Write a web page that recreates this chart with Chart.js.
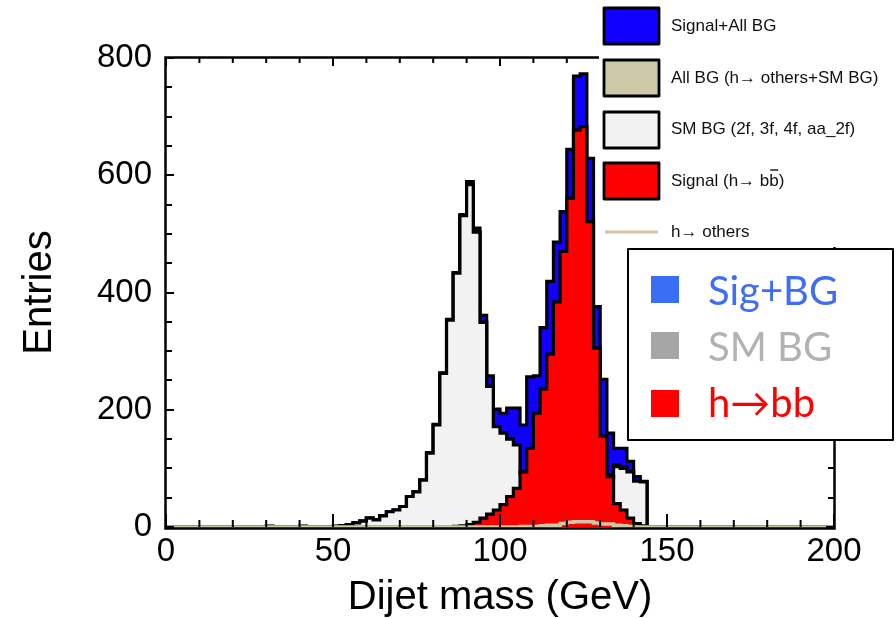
<!DOCTYPE html>
<html><head><meta charset="utf-8">
<script src="https://cdn.jsdelivr.net/npm/chart.js@4.4.0/dist/chart.umd.min.js"></script>
<style>html,body{margin:0;padding:0;background:#fff;overflow:hidden}#wrap{width:896px;height:618px;position:relative}</style>
</head><body><div id="wrap"><canvas id="c" width="896" height="618"></canvas></div>
<script>
// Histogram bins: 2 GeV wide, lower edges 0..198 GeV
const binEdges = Array.from({length: 100}, (_, i) => i * 2);
const xMax = 200;

// Signal + All BG (total)
const signalPlusAllBG = [
  0,0,0,0,0,0,0,0,0,0,
  0,0,0,0,0,1,0,0,0,0,
  1,0,0,0,0,1,2,4,7,10,
  15,12,19,26,29,35,52,60,80,127,
  175,263,354,434,533,589,510,361,258,201,
  194,203,203,174,256,258,340,419,486,538,
  644,769,773,629,376,252,160,134,134,112,
  86,78,0,0,0,0,0,0,0,0,
  0,0,0,0,0,0,0,0,0,0,
  0,0,0,0,0,0,0,0,0,0
];
// All BG (h -> others + SM BG)
const allBG = [
  0,0,0,0,0,0,0,0,0,0,
  0,0,0,0,0,1,0,0,0,0,
  1,0,0,0,0,1,2,4,7,10,
  15,12,19,26,29,35,52,60,80,126,
  174,262,353,433,531,584,503,349,240,171,
  160,150,140,93,85,81,78,75,73,74,
  80,89,93,97,79,83,89,106,102,95,
  78,77,0,0,0,0,0,0,0,0,
  0,0,0,0,0,0,0,0,0,0,
  0,0,0,0,0,0,0,0,0,0
];
// SM BG (2f, 3f, 4f, aa_2f)
const smBG = [
  0,0,0,0,0,0,0,0,0,0,
  0,0,0,0,0,1,0,0,0,0,
  1,0,0,0,0,1,2,4,7,10,
  15,12,19,26,29,35,52,60,80,126,
  174,262,353,433,531,584,503,349,240,171,
  160,150,140,92,84,80,76,72,70,68,
  72,80,84,88,72,78,84,103,100,94,
  78,77,0,0,0,0,0,0,0,0,
  0,0,0,0,0,0,0,0,0,0,
  0,0,0,0,0,0,0,0,0,0
];
// Signal (h -> bb)
const signalHbb = [
  0,0,0,0,0,0,0,0,0,0,
  0,0,0,0,0,0,0,0,0,0,
  0,0,0,0,0,0,0,0,0,0,
  0,0,0,0,0,0,0,0,0,0,
  0,0,0,1,2,4,8,15,22,29,
  38,52,66,94,134,194,235,295,384,470,
  561,677,683,521,305,155,86,40,29,15,
  6,2,0,0,0,0,0,0,0,0,
  0,0,0,0,0,0,0,0,0,0,
  0,0,0,0,0,0,0,0,0,0
];
// h -> others
const hOthers = [
  0,0,0,0,0,0,0,0,0,0,
  0,0,0,0,0,0,0,0,0,0,
  0,0,0,0,0,0,0,0,0,0,
  0,0,0,0,0,0,0,0,0,0,
  0,0,0,0,0,0,0,0,0,0,
  0,0,0,1,1,1,2,3,3,6,
  8,9,9,9,7,5,5,3,2,1,
  0,0,0,0,0,0,0,0,0,0,
  0,0,0,0,0,0,0,0,0,0,
  0,0,0,0,0,0,0,0,0,0
];

const xTickStep = 50, yTickStep = 200, yMax = 800;
const FONT = "'Liberation Sans', Arial, Helvetica, sans-serif";

function hist(values) {
  const pts = values.map((v, i) => ({x: binEdges[i], y: v}));
  pts.push({x: xMax, y: 0});
  return pts;
}

const COL = {
  blue: '#1000ff', tan: '#cdc8a8', gray: '#f2f2f2', red: '#ff0000'
};

const overlay = {
  id: 'overlay',
  afterDatasetsDraw(chart) {
    const {ctx, chartArea: a, scales: {x, y}} = chart;
    ctx.save();
    ctx.strokeStyle = '#000';
    ctx.lineWidth = 2;
    ctx.beginPath();
    for (let v = 0; v <= yMax; v += 50) {
      const py = Math.round(y.getPixelForValue(v));
      const len = v % yTickStep === 0 ? 8 : 6;
      ctx.moveTo(a.left, py); ctx.lineTo(a.left + len, py);
      ctx.moveTo(a.right, py); ctx.lineTo(a.right - len, py);
    }
    for (let v = 0; v <= xMax; v += 10) {
      const px = x.getPixelForValue(v);
      const major = v % xTickStep === 0;
      ctx.moveTo(px, a.bottom); ctx.lineTo(px, a.bottom - (major ? 13 : 7));
      ctx.moveTo(px, a.top); ctx.lineTo(px, a.top + (major ? 8 : 5));
    }
    ctx.stroke();
    ctx.lineWidth = 2.5;
    ctx.strokeRect(a.left - 0.5, a.top - 0.5, a.right - a.left + 1, a.bottom - a.top + 2);
    ctx.restore();
  },
  afterDraw(chart) {
    const ctx = chart.ctx;
    ctx.save();
    // ROOT legend (top right)
    ctx.fillStyle = '#fff';
    ctx.fillRect(599, 0, 297, 247);
    ctx.lineJoin = 'round';
    const boxes = [
      [8, COL.blue], [60, COL.tan], [112, COL.gray], [163, COL.red]
    ];
    boxes.forEach(([top, c]) => {
      ctx.fillStyle = c;
      ctx.fillRect(604, top, 55, 36);
      ctx.strokeStyle = '#000';
      ctx.lineWidth = 2.8;
      ctx.strokeRect(604, top, 55, 36);
    });
    ctx.strokeStyle = COL.tan;
    ctx.lineWidth = 3;
    ctx.beginPath(); ctx.moveTo(605, 232); ctx.lineTo(658, 232); ctx.stroke();

    ctx.fillStyle = '#111';
    ctx.font = "17px " + FONT;
    ctx.textBaseline = 'middle';
    ctx.textAlign = 'left';
    const tx = 671;
    ctx.fillText('Signal+All BG', tx, 26);
    ctx.fillText('All BG (h\u2192 others+SM BG)', tx, 78);
    ctx.fillText('SM BG (2f, 3f, 4f, aa_2f)', tx, 129);
    const s1 = 'Signal (h\u2192 b';
    ctx.fillText(s1, tx, 181);
    const w1 = ctx.measureText(s1).width;
    ctx.fillText('b', tx + w1, 181);
    const wb = ctx.measureText('b').width;
    ctx.fillText(')', tx + w1 + wb, 181);
    ctx.strokeStyle = '#111'; ctx.lineWidth = 1.4;
    ctx.beginPath(); ctx.moveTo(tx + w1 + 1, 170); ctx.lineTo(tx + w1 + wb - 0.5, 170); ctx.stroke();
    ctx.fillText('h\u2192 others', tx, 232);

    // Inset legend
    ctx.fillStyle = '#fff';
    ctx.fillRect(628, 249, 265, 191);
    ctx.strokeStyle = '#000';
    ctx.lineWidth = 2;
    ctx.strokeRect(628, 249, 265, 191);
    const items = [
      [276, '#3a6ef5', '#3f6ef4', 'Sig+BG', 305],
      [332, '#a6a6a6', '#b2b2b2', 'SM BG', 361],
      [390, '#ff0000', '#ff0000', 'h\u2192bb', 417]
    ];
    ctx.textBaseline = 'alphabetic';
    ctx.font = "40px Lato, 'Open Sans', sans-serif";
    items.forEach(([top, sq, tc, label, base]) => {
      ctx.fillStyle = sq;
      ctx.fillRect(651, top, 28, 27);
      ctx.fillStyle = tc;
      ctx.fillText(label, 708, base);
    });
    ctx.restore();
  }
};

new Chart(document.getElementById('c'), {
  type: 'line',
  data: {
    datasets: [
      {label: 'h\u2192 others', data: hist(hOthers), order: 0, borderColor: COL.tan, borderWidth: 3.5, fill: false},
      {label: 'Signal (h\u2192 bb)', data: hist(signalHbb), order: 1, borderColor: '#000', backgroundColor: COL.red, borderWidth: 3.2, fill: 'origin'},
      {label: 'SM BG', data: hist(smBG), order: 2, borderColor: '#000', backgroundColor: COL.gray, borderWidth: 3.2, fill: 'origin'},
      {label: 'All BG', data: hist(allBG), order: 3, borderColor: '#000', backgroundColor: COL.tan, borderWidth: 3.2, fill: 'origin'},
      {label: 'Signal+All BG', data: hist(signalPlusAllBG), order: 4, borderColor: '#000', backgroundColor: COL.blue, borderWidth: 3.2, fill: 'origin'}
    ].map(d => Object.assign({stepped: true, pointRadius: 0, tension: 0, clip: false, borderJoinStyle: 'miter'}, d))
  },
  options: {
    responsive: false,
    animation: false,
    devicePixelRatio: 1,
    events: [],
    layout: {padding: {left: 0, right: 62, top: 58, bottom: 0}},
    plugins: {legend: {display: false}, tooltip: {enabled: false}},
    scales: {
      x: {
        type: 'linear', min: 0, max: xMax, position: 'bottom',
        grid: {display: false, drawTicks: false}, border: {display: false},
        ticks: {stepSize: xTickStep, color: '#000', font: {family: FONT, size: 33, lineHeight: 1.2}, padding: 5, maxRotation: 0, autoSkip: false},
        title: {display: true, text: 'Dijet mass (GeV)', color: '#000', font: {family: FONT, size: 40, lineHeight: 1.0}, padding: {top: 0, bottom: 0}},
        afterFit(s) { s.height = 91; }
      },
      y: {
        min: 0, max: yMax, position: 'left',
        grid: {display: false, drawTicks: false}, border: {display: false},
        ticks: {stepSize: yTickStep, color: '#000', font: {family: FONT, size: 33}, padding: 14},
        title: {display: true, text: 'Entries', color: '#000', font: {family: FONT, size: 40, lineHeight: 1.0}, padding: {top: 20, bottom: 0}},
        afterFit(s) { s.width = 166; }
      }
    }
  },
  plugins: [overlay]
});
</script></body></html>
